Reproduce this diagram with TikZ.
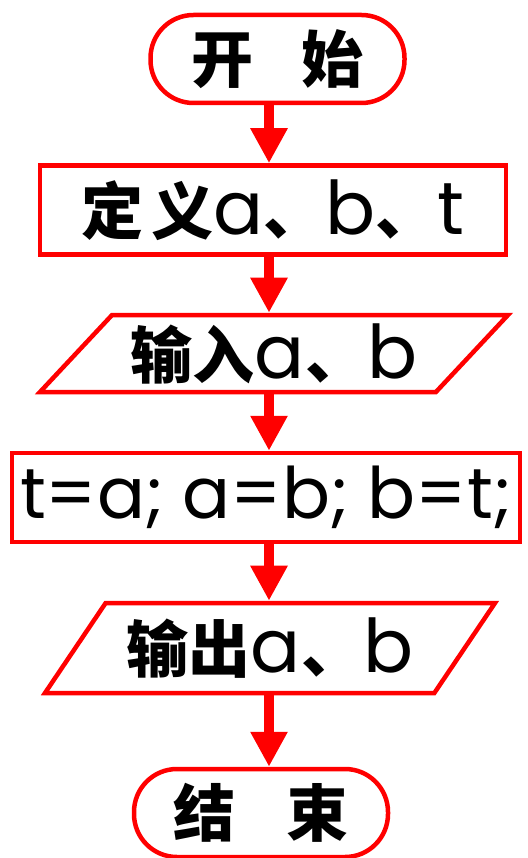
\documentclass[tikz,border=0pt]{standalone}
\usepackage{fontspec}
\newfontfamily\zhfont{Noto Sans CJK SC}
\newfontfamily\enfont{Poppins}
\usetikzlibrary{shapes.geometric,arrows.meta}
\newcommand\zh[1]{{\zhfont\bfseries\fontsize{62}{68}\selectfont #1}}
\newcommand\en[1]{{\enfont\fontsize{74}{80}\selectfont #1}}
\begin{document}
\begin{tikzpicture}[x=1pt, y=-1pt, every node/.style={inner sep=0pt}, term/.style={draw=red, line width=4.5pt, rounded corners=43pt, minimum width=254pt, minimum height=88pt}, proc/.style={draw=red, line width=4.5pt, minimum height=89pt}, io/.style={draw=red, line width=4.5pt, trapezium, trapezium stretches body}, flow/.style={red, line width=10pt, -{Triangle[width=35pt,length=35pt]}}]
\useasboundingbox (0,0) rectangle (527,858);
\coordinate (axis) at (269,0);
\node[term] (start) at (277.5,59) {\zh{开}\hspace{48pt}\zh{始}};
\node[proc, minimum width=466pt] (def) at (273,210) {\zh{定}\hspace{8pt}\zh{义}\en{a}\zh{、}\en{b}\zh{、}\en{t}};
\node[io, trapezium left angle=40, trapezium right angle=140, minimum width=468pt, minimum height=77pt] (in) at (274,353.5) {\zh{输入}\en{a}\zh{、}\en{b}};
\node[proc, minimum width=508pt] (swap) at (266,497.5) {{\enfont\fontsize{71}{76}\selectfont t=a; a=b; b=t;}};
\node[io, trapezium left angle=45, trapezium right angle=135, minimum width=450pt, minimum height=90pt] (out) at (270,648) {\zh{输出}\en{a}\zh{、}\en{b}};
\node[term] (end) at (261,813) {\zh{结}\hspace{52pt}\zh{束}};
\draw[flow] (start.south -| axis) -- (def.north -| axis);
\draw[flow] (def.south -| axis) -- (in.north -| axis);
\draw[flow] (in.south -| axis) -- (swap.north -| axis);
\draw[flow] (swap.south -| axis) -- (out.north -| axis);
\draw[flow] (out.south -| axis) -- (end.north -| axis);
\end{tikzpicture}
\end{document}
